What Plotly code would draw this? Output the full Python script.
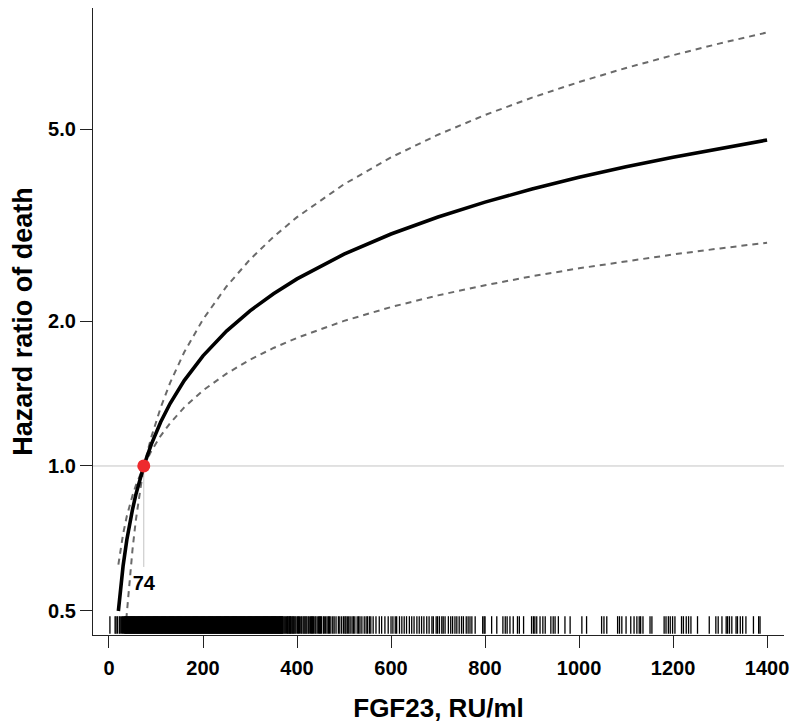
import plotly.graph_objects as go

# ---- data ----
fgf23_grid = [20, 25, 30, 38, 45, 50, 57, 62, 68, 74, 90, 110, 130, 160, 200, 250,
              300, 350, 400, 500, 600, 700, 800, 900, 1000, 1100, 1200, 1300, 1400]
hr_main = [0.500, 0.563, 0.620, 0.703, 0.768, 0.812, 0.871, 0.911, 0.956, 1.000,
           1.109, 1.234, 1.348, 1.504, 1.693, 1.906, 2.100, 2.279, 2.446, 2.753,
           3.032, 3.289, 3.531, 3.758, 3.975, 4.181, 4.378, 4.568, 4.752]
hr_upper = [0.624, 0.677, 0.722, 0.787, 0.836, 0.868, 0.910, 0.938, 0.970, 1.000,
            1.148, 1.322, 1.488, 1.722, 2.016, 2.359, 2.684, 2.991, 3.286, 3.846,
            4.373, 4.874, 5.356, 5.820, 6.270, 6.706, 7.129, 7.543, 7.947]
hr_lower = [0.270, 0.330, 0.400, 0.495, 0.600, 0.670, 0.770, 0.830, 0.910, 1.000,
            1.074, 1.155, 1.227, 1.323, 1.435, 1.555, 1.662, 1.758, 1.845, 2.001,
            2.138, 2.261, 2.373, 2.477, 2.573, 2.664, 2.749, 2.830, 2.908]

ref_fgf23 = 74
ref_hr = 1.0
ref_label = "74"

# individual observations (rug); 34-370 is a solid band in the reference
rug_values = [
    2, 13, 15, 18, 22, 24, 27, 29, 31, 33,
    34, 35, 36, 37, 38, 39, 40, 41, 42, 43, 44, 45, 46, 47, 48, 49, 50, 51, 52, 53,
    54, 55, 56, 57, 58, 59, 60, 61, 62, 63, 64, 65, 66, 67, 68, 69, 70, 71, 72, 73,
    74, 75, 76, 77, 78, 79, 80, 81, 82, 83, 84, 85, 86, 87, 88, 89, 90, 91, 92, 93,
    94, 95, 96, 97, 98, 99, 100, 101, 102, 103, 104, 105, 106, 107, 108, 109, 110,
    111, 112, 113, 114, 115, 116, 117, 118, 119, 120, 121, 122, 123, 124, 125, 126,
    127, 128, 129, 130, 131, 132, 133, 134, 135, 136, 137, 138, 139, 140, 141, 142,
    143, 144, 145, 146, 147, 148, 149, 150, 151, 152, 153, 154, 155, 156, 157, 158,
    159, 160, 161, 162, 163, 164, 165, 166, 167, 168, 169, 170, 171, 172, 173, 174,
    175, 176, 177, 178, 179, 180, 181, 182, 183, 184, 185, 186, 187, 188, 189, 190,
    191, 192, 193, 194, 195, 196, 197, 198, 199, 200, 201, 202, 203, 204, 205, 206,
    207, 208, 209, 210, 211, 212, 213, 214, 215, 216, 217, 218, 219, 220, 221, 222,
    223, 224, 225, 226, 227, 228, 229, 230, 231, 232, 233, 234, 235, 236, 237, 238,
    239, 240, 241, 242, 243, 244, 245, 246, 247, 248, 249, 250, 251, 252, 253, 254,
    255, 256, 257, 258, 259, 260, 261, 262, 263, 264, 265, 266, 267, 268, 269, 270,
    271, 272, 273, 274, 275, 276, 277, 278, 279, 280, 281, 282, 283, 284, 285, 286,
    287, 288, 289, 290, 291, 292, 293, 294, 295, 296, 297, 298, 299, 300, 301, 302,
    303, 304, 305, 306, 307, 308, 309, 310, 311, 312, 313, 314, 315, 316, 317, 318,
    319, 320, 321, 322, 323, 324, 325, 326, 327, 328, 329, 330, 331, 332, 333, 334,
    335, 336, 337, 338, 339, 340, 341, 342, 343, 344, 345, 346, 347, 348, 349, 350,
    351, 352, 353, 354, 355, 356, 357, 358, 359, 360, 361, 362, 363, 364, 365, 366,
    367, 368, 369, 370,
    372, 374, 376, 378, 380, 381, 383, 384, 386, 387, 389, 391, 392, 394, 396, 398,
    401, 403, 405, 408, 410, 413, 415, 417, 419, 421, 424, 426, 429, 431, 433, 435,
    438, 440, 443, 446, 448, 450, 452, 456, 458, 461, 464, 467, 469, 472, 476, 479,
    483, 488, 491, 495, 499, 502, 504, 507, 510, 513, 517, 520, 523, 528, 531, 534,
    538, 543, 547, 550, 554, 557, 562, 568, 575, 580, 587, 594, 600, 604, 609, 612,
    618, 623, 628, 633, 639, 644, 649, 655, 660, 665, 670, 676, 681, 687, 690, 696,
    699, 703, 708, 711, 715, 722, 727, 731, 736, 740, 745, 750, 754, 760, 764, 768,
    772, 779, 795, 798, 800, 814, 825, 838, 843, 847, 853, 860, 869, 873, 882, 899,
    903, 906, 910, 917, 923, 928, 940, 945, 949, 956, 970, 981, 1006, 1016, 1048,
    1053, 1059, 1082, 1086, 1091, 1100, 1110, 1117, 1123, 1128, 1131, 1136, 1151,
    1155, 1181, 1185, 1190, 1194, 1199, 1204, 1218, 1222, 1228, 1233, 1238, 1252,
    1277, 1291, 1296, 1304, 1313, 1316, 1320, 1325, 1334, 1337, 1343, 1348, 1355,
    1371, 1382, 1385,
]

x_ticks = [0, 200, 400, 600, 800, 1000, 1200, 1400]
y_ticks = [0.5, 1.0, 2.0, 5.0]
y_tick_labels = ["0.5", "1.0", "2.0", "5.0"]

FONT = "Liberation Sans, Arial, Helvetica, sans-serif"

fig = go.Figure()

# horizontal reference line at HR = 1
fig.add_shape(type="line", xref="paper", x0=0, x1=1, yref="y", y0=ref_hr, y1=ref_hr,
              line=dict(color="#c4c4c4", width=1), layer="below")

# vertical guide from the reference point down to the label
fig.add_trace(go.Scatter(x=[ref_fgf23, ref_fgf23], y=[ref_hr, 0.617], mode="lines",
                         line=dict(color="#c4c4c4", width=1), hoverinfo="skip",
                         showlegend=False))

# rug
rug_x, rug_y = [], []
for v in rug_values:
    rug_x += [v, v, None]
    rug_y += [0.002, 0.030, None]
fig.add_trace(go.Scatter(x=rug_x, y=rug_y, yaxis="y2", mode="lines",
                         line=dict(color="#000000", width=1.3), hoverinfo="skip",
                         showlegend=False))

# confidence bands
for band in (hr_upper, hr_lower):
    fig.add_trace(go.Scatter(x=fgf23_grid, y=band, mode="lines",
                             line=dict(color="#6a6a6a", width=2, dash="6px,5px"),
                             showlegend=False))

# main curve
fig.add_trace(go.Scatter(x=fgf23_grid, y=hr_main, mode="lines",
                         line=dict(color="black", width=3.6),
                         showlegend=False))

# reference point
fig.add_trace(go.Scatter(x=[ref_fgf23], y=[ref_hr], mode="markers",
                         marker=dict(color="#ee2a2e", size=13), showlegend=False))

# label "74"
fig.add_trace(go.Scatter(x=[ref_fgf23], y=[0.567], mode="text", text=[ref_label],
                         textfont=dict(family=FONT, size=20, color="black",
                                       weight="bold"),
                         showlegend=False))

# page body has an 8px offset, so the figure is 8px smaller on each axis
fig.update_layout(
    width=792, height=719,
    margin=dict(l=85, r=16, t=0, b=92),
    paper_bgcolor="white", plot_bgcolor="white",
    showlegend=False,
    xaxis=dict(
        range=[-34, 1436], tickvals=x_ticks,
        ticks="outside", ticklen=12, tickwidth=1, tickcolor="#222",
        showline=True, linecolor="#222", linewidth=1.2,
        showgrid=False, zeroline=False, ticklabelstandoff=3,
        tickfont=dict(family=FONT, size=20, color="black", weight="bold"),
        title=dict(text="FGF23, RU/ml", standoff=20,
                   font=dict(family=FONT, size=26, color="black", weight="bold")),
    ),
    yaxis=dict(
        type="log", range=[-0.351, 0.951], tickvals=y_ticks, ticktext=y_tick_labels,
        ticks="outside", ticklen=12, tickwidth=1, tickcolor="#222",
        showline=True, linecolor="#222", linewidth=1.2,
        showgrid=False, zeroline=False,
        tickfont=dict(family=FONT, size=20, color="black", weight="bold"),
        title=dict(text="Hazard ratio of death", standoff=12,
                   font=dict(family=FONT, size=27, color="black", weight="bold")),
    ),
    yaxis2=dict(overlaying="y", range=[0, 1], visible=False, fixedrange=True),
)

fig.write_html("out.html")
